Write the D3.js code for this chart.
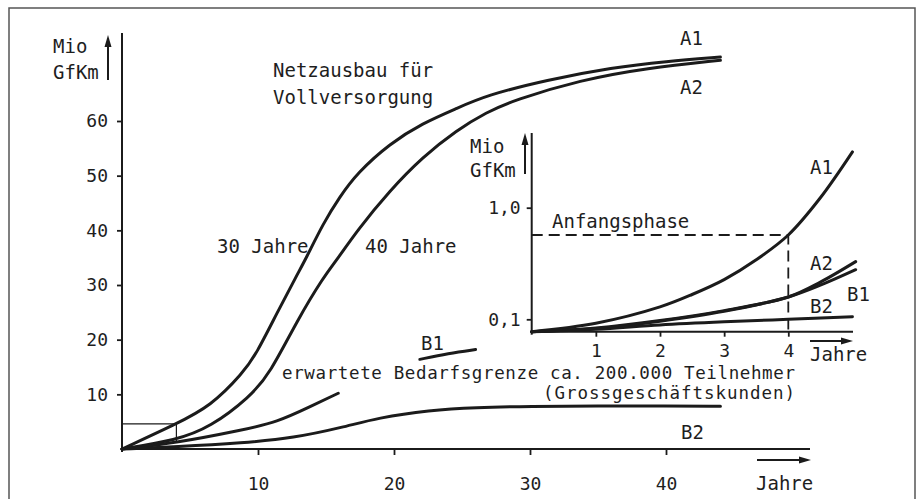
<!DOCTYPE html>
<html lang="de">
<head>
<meta charset="UTF-8">
<title>Netzausbau</title>
<script src="https://d3js.org/d3.v7.min.js"></script>
<style>
  body { margin: 0; background: #fff; }
  svg text { font-family: "DejaVu Sans Mono", monospace; fill: #1e1e1e; }
</style>
</head>
<body>
<svg id="chart" width="923" height="499"></svg>
<script>
// Hauptdiagramm: Jahre / Mio GfKm
const mainXTicks = [10, 20, 30, 40];
const mainYTicks = [10, 20, 30, 40, 50, 60];
const a1Main = [[0,0],[4,4.6],[6.5,7.8],[8.9,13.9],[9.9,17.5],[11.4,24.9],[12.9,32],[13.5,34.7],[14.8,41.3],[16,46.1],[17.3,50.5],[19.7,55.9],[22.1,59.6],[24.6,62.3],[26.8,64.7],[31.2,67.5],[36.1,69.8],[40,70.9],[44,71.7]];
const a2Main = [[0,0],[4,1.6],[6.5,4],[9.4,9.5],[10.9,13.9],[12.9,23.6],[14.8,31.4],[15.8,34.6],[17.3,40],[19.7,47.3],[22.1,53.4],[24.6,58.3],[26.8,61.6],[28.8,63.8],[33.7,67.5],[38.6,69.7],[44,71.1]];
const b1MainA = [[0,0],[4,1.1],[8.9,3.5],[11.4,4.9],[13.8,7.7],[15.9,10.2]];
const b1MainB = [[21.9,16.4],[24,17.5],[26,18.2]];
const b2Main = [[0,0],[4,0.4],[8.9,1.1],[12.6,2],[16.3,4],[18.8,5.7],[22.6,7.1],[26,7.6],[30,7.8],[35,7.9],[40,7.9],[44,7.8]];
const anfangBox = [4, 4.6]; // Jahre, Mio GfKm

// Einschub: Anfangsphase
const insetXTicks = [1, 2, 3, 4];
const insetYTicks = [0.1, 1.0];
const insetYLabels = ["0,1", "1,0"];
const a1Inset = [[0,0],[1,0.068],[2,0.2],[2.5,0.3],[3,0.42],[3.5,0.58],[4,0.78],[4.5,1.08],[5,1.45]];
const a2Inset = [[0,0],[1,0.03],[2,0.09],[3,0.17],[4,0.28],[4.5,0.4],[5.05,0.565]];
const b1Inset = [[0,0],[1,0.025],[2,0.085],[3,0.165],[4,0.28],[4.5,0.375],[5.05,0.5]];
const b2Inset = [[0,0],[1,0.02],[2,0.055],[3,0.08],[4,0.1],[5,0.12]];
const anfangPunkt = [4, 0.78];

const svg = d3.select("#chart");
const ink = "#1b1b1b";

// Rahmen
svg.append("rect").attr("x", 9).attr("y", 8).attr("width", 906).attr("height", 496)
  .attr("fill", "none").attr("stroke", "#555").attr("stroke-width", 1.5);

// Skalen Hauptdiagramm
const x = d3.scaleLinear().domain([0, 40]).range([122, 666]);
const y = d3.scaleLinear().domain([0, 60]).range([449, 121]);

// Skalen Einschub
const xi = d3.scaleLinear().domain([0, 4]).range([531.7, 788.3]);
const yi = d3.scaleLinear().domain([0, 1]).range([331.7, 207.7]);

function arrowHead(g, px, py, dir) {
  // dir: "up" oder "right"
  const pts = dir === "up"
    ? [[px, py], [px - 3.5, py + 12], [px + 3.5, py + 12]]
    : [[px, py], [px - 12, py - 3.5], [px - 12, py + 3.5]];
  g.append("polygon").attr("points", pts.map(p => p.join(",")).join(" ")).attr("fill", ink);
}

function label(txt, px, py, size, anchor) {
  return svg.append("text").attr("x", px).attr("y", py).attr("dy", "0.36em")
    .attr("font-size", size || 19).attr("text-anchor", anchor || "start").text(txt);
}

const line = (sc, curve) => d3.line().x(d => sc[0](d[0])).y(d => sc[1](d[1])).curve(curve);

// ---- Hauptdiagramm Achsen
svg.append("line").attr("x1", x(0)).attr("x2", 810).attr("y1", y(0)).attr("y2", y(0))
  .attr("stroke", ink).attr("stroke-width", 2);
svg.append("line").attr("x1", x(0)).attr("x2", x(0)).attr("y1", y(0) + 3).attr("y2", 33)
  .attr("stroke", ink).attr("stroke-width", 2);

const xAxis = svg.append("g").attr("transform", `translate(0,${y(0)})`)
  .call(d3.axisBottom(x).tickValues(mainXTicks).tickSize(6).tickPadding(22).tickSizeOuter(0));
const yAxis = svg.append("g").attr("transform", `translate(${x(0)},0)`)
  .call(d3.axisLeft(y).tickValues(mainYTicks).tickSize(5).tickPadding(9).tickSizeOuter(0));
[xAxis, yAxis].forEach(a => {
  a.select(".domain").remove();
  a.selectAll(".tick line").attr("stroke", ink).attr("stroke-width", 1.8);
  a.selectAll(".tick text").attr("font-size", 18).attr("font-family", "DejaVu Sans Mono").attr("fill", ink);
});

// Achsenbeschriftung Haupt
label("Mio", 53, 46);
label("GfKm", 53, 72);
svg.append("line").attr("x1", 108).attr("x2", 108).attr("y1", 80).attr("y2", 44)
  .attr("stroke", ink).attr("stroke-width", 2);
arrowHead(svg, 108, 35, "up");
svg.append("line").attr("x1", 757).attr("x2", 802).attr("y1", 460).attr("y2", 460)
  .attr("stroke", ink).attr("stroke-width", 2);
arrowHead(svg, 811, 460, "right");
label("Jahre", 756, 483);

// Rechteck Anfangsphase im Hauptdiagramm
svg.append("path")
  .attr("d", `M${x(0)},${y(anfangBox[1])}H${x(anfangBox[0])}V${y(0) - 6}`)
  .attr("fill", "none").attr("stroke", ink).attr("stroke-width", 1.2);

// Kurven Haupt
[a1Main, a2Main, b1MainA, b1MainB, b2Main].forEach(s => {
  svg.append("path").datum(s).attr("d", line([x, y], d3.curveBasis))
    .attr("fill", "none").attr("stroke", ink).attr("stroke-width", 3).attr("stroke-linecap", "round");
});

// Texte Haupt
label("Netzausbau für", 273, 70);
label("Vollversorgung", 273, 97);
label("A1", 680, 38);
label("A2", 680, 87);
label("30 Jahre", 217, 246);
label("40 Jahre", 365, 246);
label("B1", 421, 343);
label("erwartete Bedarfsgrenze ca. 200.000 Teilnehmer", 282, 373, 17.5).attr("textLength", 513);
label("(Grossgeschäftskunden)", 543, 393, 17.5).attr("textLength", 252);
label("B2", 681, 432);

// ---- Einschub
svg.append("line").attr("x1", xi(0)).attr("x2", 853).attr("y1", yi(0)).attr("y2", yi(0))
  .attr("stroke", ink).attr("stroke-width", 2);
svg.append("line").attr("x1", xi(0)).attr("x2", xi(0)).attr("y1", yi(0) + 3).attr("y2", 133)
  .attr("stroke", ink).attr("stroke-width", 2);

const xiAxis = svg.append("g").attr("transform", `translate(0,${yi(0)})`)
  .call(d3.axisBottom(xi).tickValues(insetXTicks).tickFormat(d3.format("d"))
    .tickSize(5).tickPadding(8).tickSizeOuter(0));
const yiAxis = svg.append("g").attr("transform", `translate(${xi(0)},0)`)
  .call(d3.axisLeft(yi).tickValues(insetYTicks).tickSize(5).tickPadding(6).tickSizeOuter(0)
    .tickFormat((d, i) => insetYLabels[i]));
[xiAxis, yiAxis].forEach(a => {
  a.select(".domain").remove();
  a.selectAll(".tick line").attr("stroke", ink).attr("stroke-width", 1.8);
  a.selectAll(".tick text").attr("font-size", 18).attr("font-family", "DejaVu Sans Mono").attr("fill", ink);
});

label("Mio", 470, 146);
label("GfKm", 470, 170);
svg.append("line").attr("x1", 525).attr("x2", 525).attr("y1", 174).attr("y2", 142)
  .attr("stroke", ink).attr("stroke-width", 2);
arrowHead(svg, 525, 133, "up");
svg.append("line").attr("x1", 810).attr("x2", 844).attr("y1", 341).attr("y2", 341)
  .attr("stroke", ink).attr("stroke-width", 2);
arrowHead(svg, 853, 341, "right");
label("Jahre", 810, 354);

// Anfangsphase gestrichelt
svg.append("path")
  .attr("d", `M${xi(0)},${yi(anfangPunkt[1])}H${xi(anfangPunkt[0])}V${yi(0)}`)
  .attr("fill", "none").attr("stroke", ink).attr("stroke-width", 1.8).attr("stroke-dasharray", "11,6");
label("Anfangsphase", 552, 221);

[a1Inset, a2Inset, b1Inset, b2Inset].forEach(s => {
  svg.append("path").datum(s).attr("d", line([xi, yi], d3.curveCatmullRom.alpha(0.5)))
    .attr("fill", "none").attr("stroke", ink).attr("stroke-width", 3).attr("stroke-linecap", "round");
});

label("A1", 810, 167);
label("A2", 810, 263);
label("B1", 847, 294);
label("B2", 810, 306);
</script>
</body>
</html>
